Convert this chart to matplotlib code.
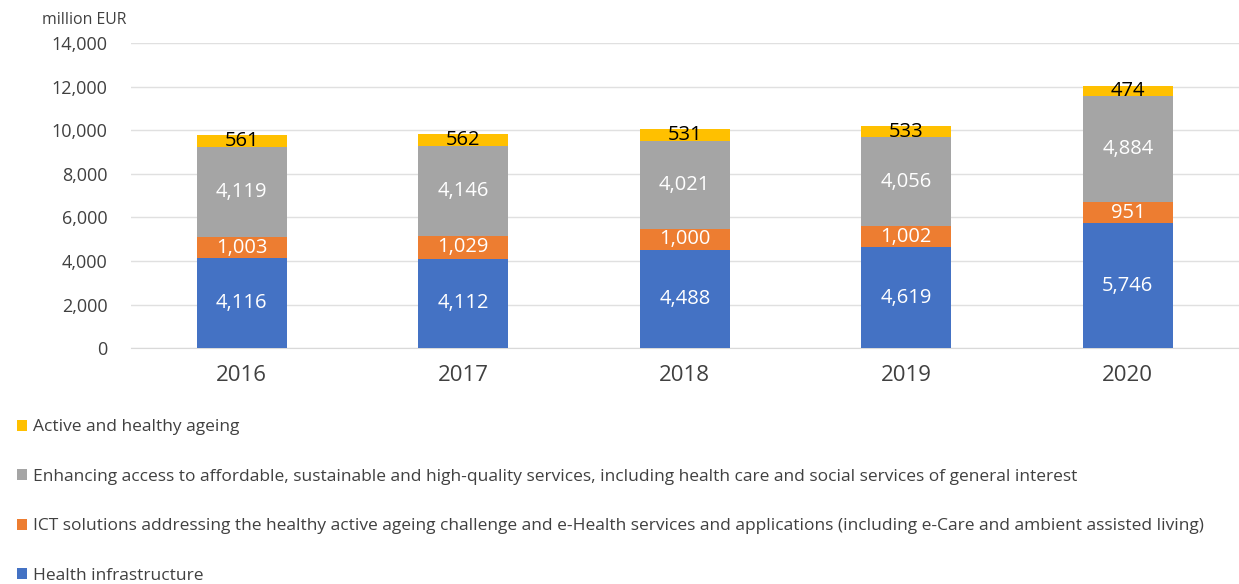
import matplotlib.pyplot as plt
import numpy as np

plt.rcParams['font.family'] = ['Open Sans', 'DejaVu Sans']

years = ["2016", "2017", "2018", "2019", "2020"]
health_infra = [4116, 4112, 4488, 4619, 5746]
ict = [1003, 1029, 1000, 1002, 951]
access = [4119, 4146, 4021, 4056, 4884]
ageing = [561, 562, 531, 533, 474]

names = ["Health infrastructure",
         "ICT solutions addressing the healthy active ageing challenge and e-Health services and applications (including e-Care and ambient assisted living)",
         "Enhancing access to affordable, sustainable and high-quality services, including health care and social services of general interest",
         "Active and healthy ageing"]
colors = ["#4472C4", "#ED7D31", "#A5A5A5", "#FFC000"]
text_colors = ["white", "white", "white", "black"]

fig = plt.figure(figsize=(12.39, 5.84), dpi=100, facecolor="white")
ax = fig.add_axes([0.1057, 0.404, 0.894, 0.522])

x = np.arange(len(years))
bottom = np.zeros(len(years))
handles = []
for vals, name, col, tc in zip([health_infra, ict, access, ageing], names, colors, text_colors):
    bars = ax.bar(x, vals, 0.405, bottom=bottom, color=col, label=name, zorder=3)
    handles.append(bars)
    for xi, b, v in zip(x, bottom, vals):
        ax.text(xi, b + v / 2, f"{v:,}", ha="center", va="center", color=tc, fontsize=14.5, zorder=4)
    bottom += np.array(vals)

ax.set_xlim(-0.5, 4.5)
ax.set_ylim(0, 14000)
ax.set_yticks(range(0, 14001, 2000))
ax.set_yticklabels([f"{v:,}" for v in range(0, 14001, 2000)], fontsize=13, color="#404040")
ax.set_xticks(x)
ax.set_xticklabels(years, fontsize=16, color="#404040")
ax.tick_params(length=0)
ax.tick_params(axis="y", pad=17)
ax.tick_params(axis="x", pad=12)
ax.grid(axis="y", color="#E0E0E0", linewidth=1, zorder=0)
for s in ["top", "right", "left"]:
    ax.spines[s].set_visible(False)
ax.spines["bottom"].set_color("#D9D9D9")

fig.text(0.034, 0.966, "million EUR", fontsize=11.4, color="#404040", va="center")

fig.legend(handles[::-1], names[::-1], loc="upper left", bbox_to_anchor=(0.008, 0.294),
           frameon=False, fontsize=12.5, labelspacing=1.93, handlelength=0.6, handleheight=0.6,
           handletextpad=0.35, borderaxespad=0, labelcolor="#404040")

fig.savefig("out.png", dpi=100)
